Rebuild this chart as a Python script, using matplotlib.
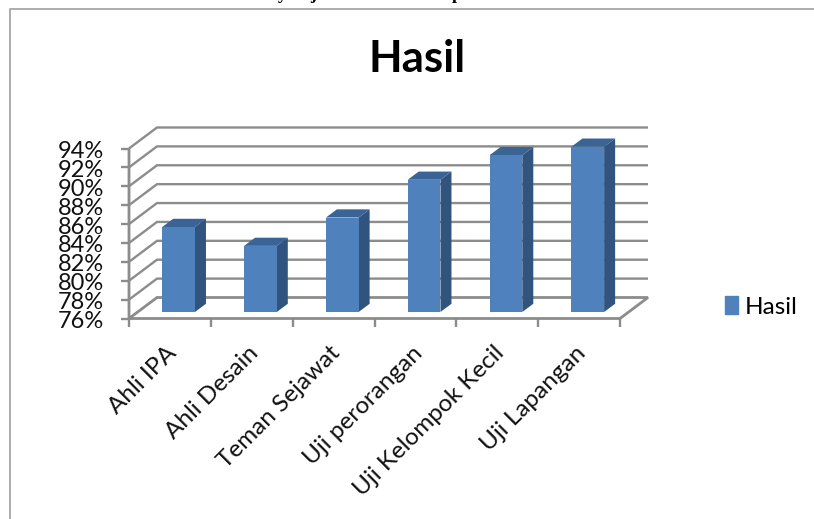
import matplotlib
matplotlib.use("Agg")
import matplotlib.pyplot as plt
from matplotlib.lines import Line2D
from matplotlib.patches import Patch

categories = ["Ahli IPA", "Ahli Desain", "Teman Sejawat", "Uji perorangan",
              "Uji Kelompok Kecil", "Uji Lapangan"]
values = [85.0, 83.0, 86.0, 90.0, 92.6, 93.5]
y_ticks = [76, 78, 80, 82, 84, 86, 88, 90, 92, 94]
heading_glyphs = ["y", "j", "p"]
heading_x = [282, 313, 457]

W, H = 814, 519
FRONT = "#4F81BD"
TOP = "#3A6496"
SIDE = "#31547F"
GRID = "#8C8C8C"

plt.rcParams["font.family"] = ["Lato", "DejaVu Sans"]

fig = plt.figure(figsize=(W / 100, H / 100), dpi=100)

# front plane of the plot box, in pixels
left, right, bottom, top = 129, 620, 318.5, 148.5
ax = fig.add_axes([left / W, 1 - bottom / H, (right - left) / W, (bottom - top) / H])
ax.set_xlim(0, len(categories))
ax.set_ylim(y_ticks[0], y_ticks[-1])
ax.axis("off")

# oblique offset of the back wall, in data units
ux = len(categories) / (right - left)
uy = (y_ticks[-1] - y_ticks[0]) / (bottom - top)
depth_x = 28 * ux
depth_y = 21 * uy


def line(xs, ys, lw=1.7):
    ax.plot(xs, ys, color=GRID, lw=lw, clip_on=False, solid_capstyle="butt",
            solid_joinstyle="miter", zorder=1)


# gridlines run along the back wall and down the side wall
for t in y_ticks:
    if t == y_ticks[0]:
        continue
    line([0, depth_x, len(categories) + depth_x], [t, t + depth_y, t + depth_y])

# floor of the box
floor_y = y_ticks[0]
line([0, depth_x, len(categories) + depth_x, len(categories), 0, 0],
     [floor_y, floor_y + depth_y, floor_y + depth_y, floor_y, floor_y, y_ticks[-1]], lw=2)

# tick marks
for t in y_ticks:
    line([-8 * ux, 0], [t, t])
for i in range(len(categories) + 1):
    line([i, i], [floor_y, floor_y - 8 * uy])

# bars stand partway into the box, so their base and top are lifted together
bar_w = 0.40
shift = 0.31
bar_dx = 11 * ux
bar_dy = 8.2 * uy
lift = shift * depth_y
base = floor_y + lift
for i, v in enumerate(values):
    x0 = i + 0.5 + shift * depth_x - bar_w / 2
    x1 = x0 + bar_w
    vt = v + lift
    ax.fill([x0, x0 + bar_dx, x1 + bar_dx, x1], [vt, vt + bar_dy, vt + bar_dy, vt],
            color=TOP, lw=0, clip_on=False, zorder=3)
    ax.fill([x1, x1 + bar_dx, x1 + bar_dx, x1], [base, base + bar_dy, vt + bar_dy, vt],
            color=SIDE, lw=0, clip_on=False, zorder=3)
    ax.bar(x0, v - floor_y, width=bar_w, bottom=base, align="edge", color=FRONT,
           lw=0, clip_on=False, zorder=4)

# value and category labels
for t in y_ticks:
    ax.annotate(f"{t}%", (0, t), xytext=(-25, -3), textcoords="offset pixels",
                ha="right", va="center", fontsize=17, color="#111111",
                annotation_clip=False)
for i, name in enumerate(categories):
    ax.annotate(name, (i + 0.5, floor_y), xytext=(-4, -24), textcoords="offset pixels",
                ha="right", va="top", rotation=45, rotation_mode="anchor", fontsize=17.5,
                color="#111111", annotation_clip=False)

# chart frame
fig.add_artist(Line2D([9.5 / W, 9.5 / W, 1], [0, 1 - 8.5 / H, 1 - 8.5 / H],
                      color="#A6A6A6", lw=1.3))

# heading of the surrounding page, cut off by the top edge
for g, gx in zip(heading_glyphs, heading_x):
    fig.text(gx / W, 1 + 1 / H, g, ha="center", va="baseline", fontsize=13,
             fontweight="bold", family="Liberation Serif", color="black")

fig.text(417.5 / W, 1 - 59 / H, "Hasil", ha="center", va="center", fontsize=31.5,
         fontweight="bold", color="black")

fig.legend(handles=[Patch(color=FRONT, label="Hasil")], loc="center left",
           bbox_to_anchor=(725 / W, 1 - 307 / H), frameon=False, fontsize=17.5,
           handlelength=0.52, handleheight=0.75, handletextpad=0.3, borderpad=0, borderaxespad=0)

fig.savefig("out.png", dpi=100)
